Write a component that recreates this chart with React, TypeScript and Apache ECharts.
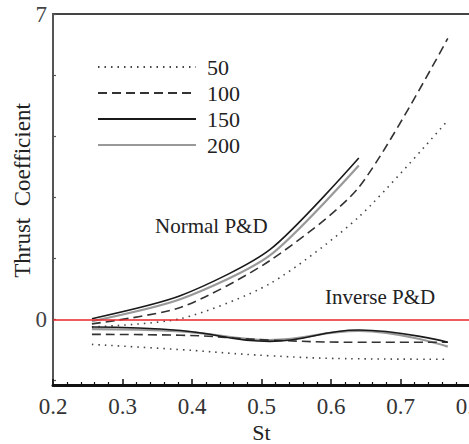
import React, { useEffect, useRef } from "react";
import * as echarts from "echarts";

const stValues = [0.256, 0.384, 0.512, 0.64, 0.768];
const seriesNames = ["50", "100", "150", "200"];

// Normal P&D thrust coefficient
const normal50 = [-0.17, 0.02, 0.82, 2.35, 4.56];
const normal100 = [-0.1, 0.28, 1.35, 3.03, 6.44];
const normal150 = [0.02, 0.55, 1.6, 3.7];
const normal200 = [-0.04, 0.47, 1.47, 3.53];

// Inverse P&D thrust coefficient
const inverse50 = [-0.57, -0.69, -0.83, -0.9, -0.91];
const inverse100 = [-0.34, -0.36, -0.47, -0.52, -0.52];
const inverse150 = [-0.17, -0.25, -0.5, -0.24, -0.52];
const inverse200 = [-0.22, -0.27, -0.47, -0.26, -0.62];

const yTickValues = [-1.4, 0, 1.4, 2.8, 4.2, 5.6, 7];
const yLabelValues = [0, 7];

const FONT = "'Liberation Serif', 'DejaVu Serif', serif";

const styles: Record<string, any> = {
  "50": { color: "#444", width: 1.6, type: [1.5, 5] },
  "100": { color: "#333", width: 1.6, type: [9, 5] },
  "150": { color: "#1a1a1a", width: 1.6, type: "solid" },
  "200": { color: "#999", width: 2.2, type: "solid" },
};

function pair(vals: number[]) {
  return vals.map((v, i) => [stValues[i], v]);
}

export default function App() {
  const ref = useRef<HTMLDivElement>(null);
  useEffect(() => {
    if (!ref.current) return;
    const chart = echarts.init(ref.current, undefined, { renderer: "svg" });
    const normals: Record<string, number[]> = {
      "50": normal50,
      "100": normal100,
      "150": normal150,
      "200": normal200,
    };
    const inverses: Record<string, number[]> = {
      "50": inverse50,
      "100": inverse100,
      "150": inverse150,
      "200": inverse200,
    };
    const series: any[] = [];
    seriesNames.forEach((name) => {
      const st = styles[name];
      series.push({
        type: "line",
        name,
        data: pair(normals[name]),
        symbol: "none",
        smooth: 0.25,
        lineStyle: { color: st.color, width: st.width, type: st.type },
        itemStyle: { color: st.color },
        z: name === "200" ? 2 : 3,
      });
      series.push({
        type: "line",
        name,
        data: pair(inverses[name]),
        symbol: "none",
        smooth: 0.45,
        lineStyle: { color: st.color, width: st.width, type: st.type },
        itemStyle: { color: st.color },
        z: name === "200" ? 2 : 3,
      });
    });
    series[0].markLine = {
      silent: true,
      symbol: "none",
      label: { show: false },
      lineStyle: { color: "#e8262a", width: 1.5, type: "solid" },
      data: [{ yAxis: 0 }],
    };

    chart.setOption({
      animation: false,
      backgroundColor: "#fff",
      grid: {
        left: 53,
        right: 10,
        top: 14,
        bottom: 59,
        outerBoundsMode: "none",
        containLabel: false,
        show: true,
        borderColor: "#444",
        borderWidth: 2,
      },
      legend: {
        data: seriesNames,
        orient: "vertical",
        left: 92,
        top: 51,
        itemWidth: 98,
        itemHeight: 14,
        itemGap: 4,
        selectedMode: false,
        itemStyle: { opacity: 0 },
        textStyle: {
          fontFamily: FONT,
          fontSize: 22,
          color: "#222",
          padding: [0, 0, 0, 6],
        },
      },
      xAxis: {
        type: "value",
        min: 0.2,
        max: 0.8,
        interval: 0.1,
        name: "St",
        nameLocation: "middle",
        nameGap: 36,
        nameMoveOverlap: false,
        nameTextStyle: { fontFamily: FONT, fontSize: 22, color: "#222" },
        axisLine: { show: true, onZero: false, lineStyle: { color: "#111", width: 3 } },
        axisTick: { show: true, inside: true, length: 6, lineStyle: { color: "#111", width: 1.5 } },
        minorTick: { show: true, splitNumber: 5, length: 3, lineStyle: { color: "#111", width: 1.2 } },
        axisLabel: {
          fontFamily: FONT,
          fontSize: 23,
          color: "#333",
          margin: 10,
          hideOverlap: false,
          formatter: (v: number) => v.toFixed(1),
        },
        splitLine: { show: false },
      },
      yAxis: {
        type: "value",
        min: -1.5,
        max: 7,
        name: "Thrust  Coefficient",
        nameLocation: "middle",
        nameGap: 19,
        nameMoveOverlap: false,
        nameTextStyle: {
          fontFamily: FONT,
          fontSize: 23,
          color: "#222",
          padding: [0, 0, 0, 18],
        },
        axisLine: { show: true, onZero: false, lineStyle: { color: "#555", width: 2 } },
        axisTick: {
          show: true,
          inside: true,
          length: 3,
          customValues: yTickValues,
          lineStyle: { color: "#555", width: 1.2 },
        },
        axisLabel: {
          fontFamily: FONT,
          fontSize: 23,
          color: "#444",
          margin: 6,
          customValues: yLabelValues,
          showMaxLabel: true,
        },
        splitLine: { show: false },
      },
      graphic: [
        {
          type: "text",
          left: 155,
          top: 215,
          style: {
            text: "Normal P&D",
            fontFamily: FONT,
            fontSize: 21,
            fill: "#222",
          },
        },
        {
          type: "text",
          left: 325,
          top: 286,
          style: {
            text: "Inverse P&D",
            fontFamily: FONT,
            fontSize: 21,
            fill: "#222",
          },
        },
      ],
      series,
    });
    return () => chart.dispose();
  }, []);
  return (
    <div
      ref={ref}
      style={{ position: "fixed", left: 0, top: 0, width: 480, height: 444 }}
    />
  );
}
